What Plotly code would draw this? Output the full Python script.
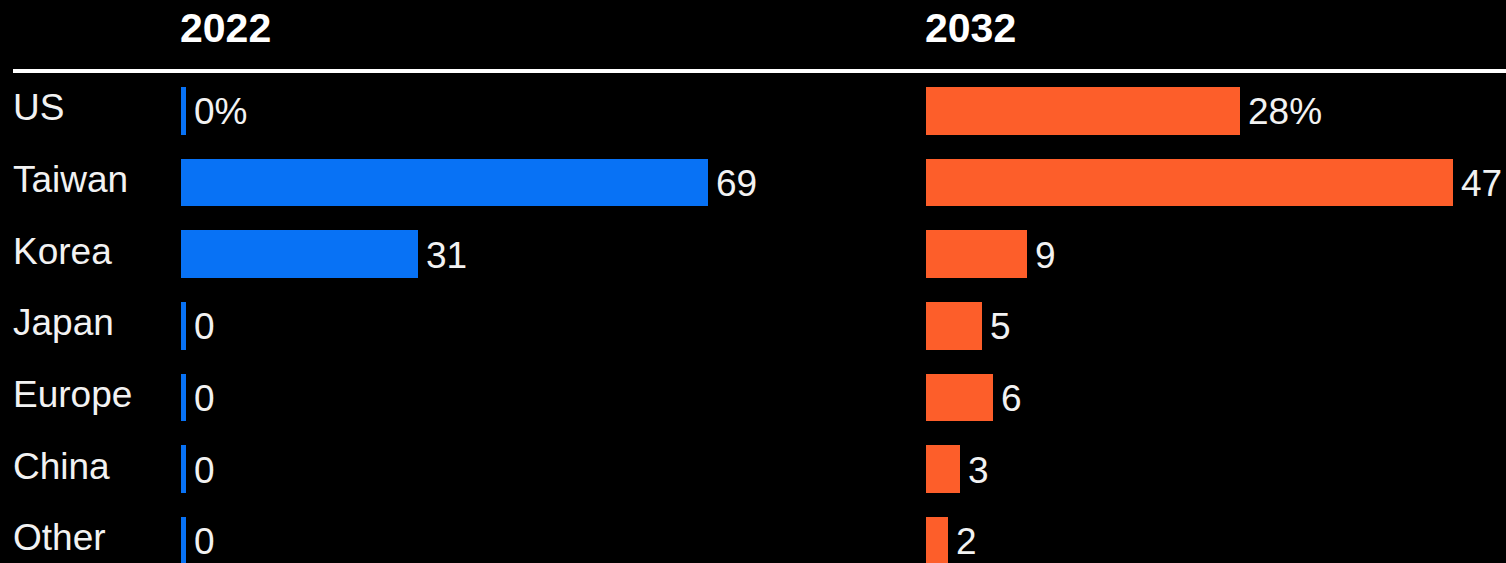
import plotly.graph_objects as go

# Share of leading-edge chip capacity by region
regions = ["US", "Taiwan", "Korea", "Japan", "Europe", "China", "Other"]
share_2022 = [0, 69, 31, 0, 0, 0, 0]
share_2032 = [28, 47, 9, 5, 6, 3, 2]
years = ["2022", "2032"]

BLUE = "#0872f5"
ORANGE = "#fd5e2a"
W, H = 1506, 563
FONT = "Liberation Sans, Arial"


def value_labels(vals):
    return [f"{v}%" if i == 0 else str(v) for i, v in enumerate(vals)]


fig = go.Figure()

panels = [
    # (values, colour, axis suffix, left px, right px, units per px)
    (share_2022, BLUE, "", 181, 900, 69 / 527),
    (share_2032, ORANGE, "2", 926, W, 28 / 314),
]

plot_top = 75
ydom = [0, 1 - plot_top / H]
pitch = 71.67
yspan = (H - plot_top) / pitch
yrange = [-0.5 + yspan, -0.5]

annotations = []
for k, (vals, colour, ax, x0, x1, upp) in enumerate(panels):
    xmax = (x1 - x0) * upp
    stub = 5 * upp
    xa = "x" + ax
    ya = "y" + ax
    # zero-baseline stub so empty rows still show a tick of colour
    fig.add_trace(go.Bar(
        y=regions, x=[stub] * len(regions), orientation="h",
        marker=dict(color=colour, line=dict(width=0)),
        width=0.663, xaxis=xa, yaxis=ya, hoverinfo="skip",
        showlegend=False,
    ))
    fig.add_trace(go.Bar(
        y=regions, x=vals, orientation="h",
        marker=dict(color=colour, line=dict(width=0)),
        width=0.663, xaxis=xa, yaxis=ya, showlegend=False,
    ))
    layout_x = dict(domain=[x0 / W, min(x1 / W, 1)], range=[0, xmax],
                    visible=False, fixedrange=True)
    layout_y = dict(domain=ydom, range=yrange, visible=False,
                    categoryorder="array", categoryarray=regions,
                    fixedrange=True)
    if ax:
        layout_y["anchor"] = xa
        layout_x["anchor"] = ya
    fig.update_layout(**{"xaxis" + ax: layout_x, "yaxis" + ax: layout_y})

    for r, v, t in zip(regions, vals, value_labels(vals)):
        annotations.append(dict(
            x=max(v, stub), y=r, xref=xa, yref=ya, text=t,
            xanchor="left", yanchor="middle", xshift=6, yshift=-1,
            showarrow=False,
            font=dict(family=FONT, size=37, color="#f2f2f2"),
        ))

    annotations.append(dict(
        x=(x0 - 3) / W, y=1 - 28 / H, xref="paper", yref="paper",
        text=years[k], xanchor="left", yanchor="middle", showarrow=False,
        font=dict(family=FONT, size=41, color="#ffffff", weight="bold"),
    ))

for r in regions:
    annotations.append(dict(
        x=11 / W, y=r, xref="paper", yref="y", text=r,
        xanchor="left", yanchor="middle", yshift=3, showarrow=False,
        font=dict(family=FONT, size=37, color="#f2f2f2"),
    ))

fig.update_layout(
    width=W, height=H,
    margin=dict(l=0, r=0, t=0, b=0),
    paper_bgcolor="#000000", plot_bgcolor="#000000",
    barmode="overlay", bargap=0,
    annotations=annotations,
    shapes=[dict(type="line", xref="paper", yref="paper",
                 x0=13 / W, x1=1, y0=1 - 71 / H, y1=1 - 71 / H,
                 line=dict(color="#ffffff", width=4))],
)

fig.write_html("out.html", config={"displayModeBar": False})
